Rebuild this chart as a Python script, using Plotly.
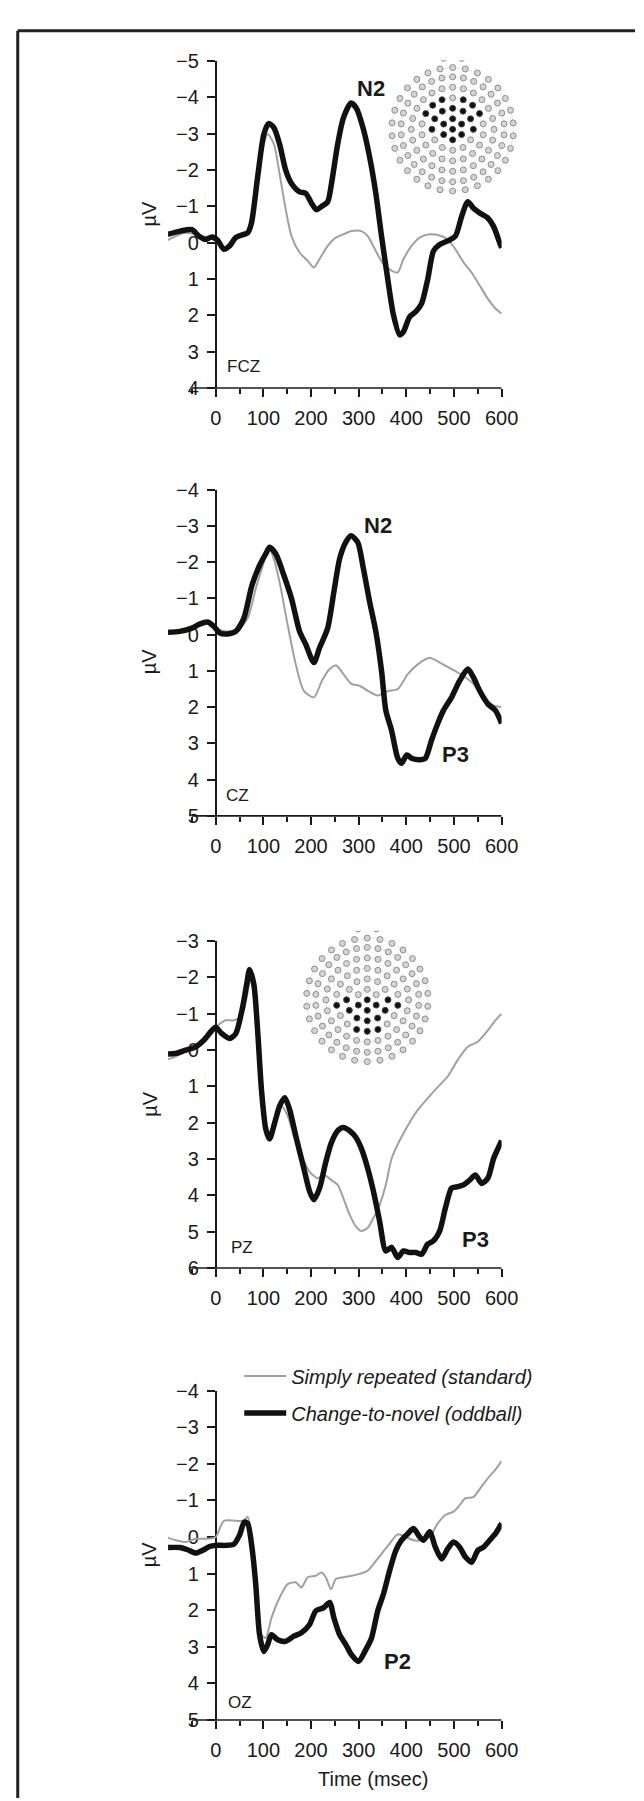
import math
import plotly.graph_objects as go

W, H = 644, 1801

# ---------------- data (time in ms, amplitude in microvolts) ----------------
fcz_t_odd = [-101, -75, -50, -35, -21, -8, 4, 17, 29, 42, 59, 67, 75, 88, 101, 111, 122, 134, 147, 159, 176, 189,
             201, 211, 222, 235, 243, 256, 268, 284, 295, 309, 323, 336, 348, 361, 373, 386, 394, 407, 420, 432,
             445, 457, 470, 487, 503, 516, 529, 541, 554, 571, 583, 596, 600]
fcz_v_odd = [-0.23, -0.32, -0.36, -0.18, -0.09, -0.16, -0.07, 0.18, 0.09, -0.14, -0.23, -0.27, -0.54, -1.81, -2.99,
             -3.28, -3.17, -2.72, -1.99, -1.63, -1.40, -1.36, -1.09, -0.91, -1.00, -1.13, -1.63, -2.72, -3.44, -3.85,
             -3.71, -3.17, -2.36, -1.36, -0.18, 1.00, 1.99, 2.54, 2.45, 2.04, 1.90, 1.68, 1.00, 0.23, 0.05, -0.05,
             -0.18, -0.72, -1.13, -0.95, -0.82, -0.68, -0.45, 0.00, 0.14]
fcz_t_std = [-101, -67, -42, -17, 0, 17, 34, 55, 71, 84, 96, 109, 122, 134, 147, 159, 176, 193, 206, 218, 235, 252,
             268, 285, 306, 319, 336, 352, 369, 382, 394, 411, 428, 449, 470, 487, 503, 520, 537, 554, 571, 587, 600]
fcz_v_std = [-0.07, -0.27, -0.23, -0.14, -0.05, 0.14, -0.05, -0.18, -0.36, -1.45, -2.45, -2.99, -2.72, -1.90, -0.91,
             -0.18, 0.27, 0.50, 0.68, 0.45, 0.09, -0.14, -0.23, -0.32, -0.32, -0.18, 0.23, 0.59, 0.77, 0.82, 0.45,
             0.09, -0.14, -0.23, -0.20, -0.09, 0.18, 0.54, 0.82, 1.18, 1.54, 1.81, 1.95]

cz_t_odd = [-105, -75, -50, -34, -17, -4, 8, 25, 42, 59, 76, 92, 105, 113, 126, 143, 159, 176, 189, 206, 218, 235,
            248, 260, 273, 284, 298, 310, 323, 336, 348, 357, 369, 382, 390, 401, 411, 428, 440, 453, 466, 478, 495,
            512, 529, 541, 554, 571, 587, 600]
cz_v_odd = [-0.06, -0.09, -0.18, -0.29, -0.35, -0.23, -0.05, -0.02, -0.09, -0.45, -1.36, -1.91, -2.23, -2.41, -2.23,
            -1.64, -1.00, -0.09, 0.27, 0.77, 0.36, -0.18, -1.18, -2.09, -2.55, -2.73, -2.55, -1.82, -0.91, -0.09,
            1.00, 2.09, 2.64, 3.41, 3.55, 3.32, 3.41, 3.45, 3.41, 2.91, 2.45, 2.09, 1.73, 1.27, 0.95, 1.18, 1.55,
            1.91, 2.09, 2.45]
cz_t_std = [-105, -67, -34, -17, 0, 21, 46, 67, 84, 101, 111, 122, 134, 151, 168, 185, 206, 223, 239, 253, 268, 285,
            302, 319, 340, 361, 382, 403, 424, 449, 470, 495, 520, 541, 562, 583, 600]
cz_v_std = [-0.09, -0.14, -0.27, -0.36, -0.18, -0.09, -0.14, -0.45, -1.27, -2.00, -2.41, -2.09, -1.45, -0.27, 0.82,
            1.55, 1.73, 1.27, 0.95, 0.85, 1.09, 1.36, 1.41, 1.55, 1.68, 1.56, 1.50, 1.09, 0.82, 0.64, 0.77, 0.95,
            1.14, 1.36, 1.73, 1.95, 2.00]

pz_t_odd = [-105, -84, -63, -42, -25, -8, 0, 13, 29, 42, 55, 65, 71, 80, 88, 96, 105, 113, 124, 134, 145, 155, 168,
            185, 197, 206, 218, 231, 243, 256, 268, 281, 294, 306, 319, 331, 344, 357, 369, 382, 394, 407, 420, 432,
            445, 457, 470, 482, 495, 508, 520, 533, 545, 558, 571, 583, 592, 600]
pz_v_odd = [0.11, 0.09, 0.00, -0.09, -0.27, -0.54, -0.63, -0.45, -0.32, -0.45, -1.09, -1.81, -2.22, -1.81, -0.54,
            1.09, 2.17, 2.45, 1.99, 1.54, 1.31, 1.63, 2.36, 3.26, 3.89, 4.12, 3.80, 3.08, 2.54, 2.22, 2.13, 2.22,
            2.40, 2.72, 3.26, 3.89, 4.71, 5.53, 5.43, 5.71, 5.53, 5.57, 5.57, 5.62, 5.34, 5.25, 4.98, 4.35, 3.80,
            3.76, 3.71, 3.58, 3.44, 3.67, 3.53, 2.99, 2.72, 2.49]
pz_t_std = [-105, -84, -59, -34, -8, 4, 21, 38, 55, 65, 73, 81, 90, 98, 107, 115, 126, 138, 151, 164, 180, 197, 214,
            227, 243, 256, 268, 281, 294, 306, 319, 331, 344, 357, 369, 386, 403, 420, 440, 461, 487, 508, 529, 550,
            571, 587, 600]
pz_v_std = [0.27, 0.18, 0.00, -0.18, -0.54, -0.68, -0.82, -0.82, -0.95, -1.45, -1.95, -1.45, -0.18, 1.27, 2.26,
            2.45, 1.99, 1.54, 1.81, 2.36, 2.90, 3.35, 3.53, 3.44, 3.58, 3.71, 4.08, 4.53, 4.85, 4.98, 4.89, 4.62,
            4.26, 3.71, 2.99, 2.49, 2.08, 1.72, 1.40, 1.09, 0.72, 0.27, -0.09, -0.23, -0.54, -0.82, -1.00]

oz_t_odd = [-105, -75, -59, -42, -25, -13, 0, 21, 38, 50, 60, 67, 76, 84, 92, 101, 109, 117, 130, 147, 164, 180,
            197, 210, 227, 239, 248, 260, 273, 285, 300, 315, 327, 340, 352, 365, 378, 390, 403, 415, 428, 436, 449,
            461, 474, 487, 499, 512, 524, 537, 550, 562, 575, 587, 600]
oz_v_odd = [0.29, 0.29, 0.35, 0.44, 0.35, 0.26, 0.23, 0.23, 0.20, -0.05, -0.41, -0.37, 0.28, 1.29, 2.67, 3.13, 2.94,
            2.67, 2.81, 2.85, 2.71, 2.62, 2.39, 2.02, 1.93, 1.79, 2.21, 2.67, 2.94, 3.22, 3.40, 3.08, 2.76, 2.02,
            1.56, 0.92, 0.37, 0.09, -0.09, -0.23, 0.00, 0.09, -0.14, 0.28, 0.60, 0.32, 0.14, 0.28, 0.55, 0.69, 0.37,
            0.28, 0.09, -0.09, -0.37]
oz_t_std = [-105, -84, -63, -42, -17, 0, 17, 42, 59, 67, 76, 84, 96, 105, 117, 134, 151, 168, 180, 193, 210, 222,
            231, 242, 252, 268, 285, 302, 319, 331, 348, 365, 382, 399, 415, 432, 449, 466, 482, 499, 512, 524, 541,
            558, 575, 587, 600]
oz_v_std = [0.00, 0.09, 0.14, 0.05, 0.05, 0.00, -0.44, -0.44, -0.44, -0.55, 0.09, 1.29, 2.67, 2.76, 2.21, 1.66,
            1.29, 1.24, 1.38, 1.10, 1.06, 0.97, 1.10, 1.43, 1.15, 1.10, 1.06, 1.01, 0.92, 0.74, 0.46, 0.18, -0.07,
            0.00, 0.09, 0.09, 0.00, -0.37, -0.60, -0.69, -0.87, -1.06, -1.09, -1.38, -1.66, -1.84, -2.07]

x_tick_vals = [0, 100, 200, 300, 400, 500, 600]
x_minor_vals = [-50, 50, 150, 250, 350, 450, 550]
series_names = ["Simply repeated (standard)", "Change-to-novel (oddball)"]

# electrode net for the head insets (ring layout)
ring_radii = [0.0, 0.17, 0.34, 0.51, 0.68, 0.85, 1.0]
ring_counts = [1, 6, 12, 18, 24, 30, 30]
nose_x = [-0.15, 0.15]
nose_y = [1.15, 1.15]

# ---------------- layout helpers ----------------
FONT = "Arial, Liberation Sans, Helvetica, sans-serif"
INK = "#1a1a1a"
GRAY = "#a0a0a0"


def px_x(p):
    return p / W


def px_y(p):
    return 1 - p / H


def tick_label(v):
    return ("\u2212" + str(-v)) if v < 0 else str(v)


X_LEFT, X_RIGHT = 164.4, 507.0   # pixels for -100 ms and 600 ms
Y_AXIS_X = 213.3                  # pixel of the 0 ms axis line

panels = [
    dict(site="FCZ", lo=-5, hi=4, top=42.7, bot=373.5,
         ts=fcz_t_std, vs=fcz_v_std, to=fcz_t_odd, vo=fcz_v_odd,
         peaks=[("N2", 325, -4.24)], site_pos=(59, 3.42), uv=196.7),
    dict(site="CZ", lo=-4, hi=5, top=476.5, bot=806.7,
         ts=cz_t_std, vs=cz_v_std, to=cz_t_odd, vo=cz_v_odd,
         peaks=[("N2", 340, -3.0), ("P3", 503, 3.32)], site_pos=(46, 4.45), uv=650),
    dict(site="PZ", lo=-3, hi=6, top=933.5, bot=1264.5,
         ts=pz_t_std, vs=pz_v_std, to=pz_t_odd, vo=pz_v_odd,
         peaks=[("P3", 545, 5.21)], site_pos=(55, 5.43), uv=1098),
    dict(site="OZ", lo=-4, hi=5, top=1388.5, bot=1722.0,
         ts=oz_t_std, vs=oz_v_std, to=oz_t_odd, vo=oz_v_odd,
         peaks=[("P2", 382, 3.40)], site_pos=(52, 4.51), uv=1554),
]

fig = go.Figure()
annotations = []
shapes = []
layout = {}

for i, p in enumerate(panels, start=1):
    xa, ya = ("x" if i == 1 else f"x{i}"), ("y" if i == 1 else f"y{i}")
    last = i == len(panels)
    fig.add_trace(go.Scatter(
        x=p["ts"], y=p["vs"], xaxis=xa, yaxis=ya, mode="lines",
        line=dict(color=GRAY, width=2, shape="spline", smoothing=0.7),
        name=series_names[0], legendgroup="std", showlegend=last, hoverinfo="skip"))
    fig.add_trace(go.Scatter(
        x=p["to"], y=p["vo"], xaxis=xa, yaxis=ya, mode="lines",
        line=dict(color="#111111", width=5.5, shape="spline", smoothing=0.7),
        name=series_names[1], legendgroup="odd", showlegend=last, hoverinfo="skip"))

    yvals = list(range(p["lo"], p["hi"] + 1))
    layout["xaxis" if i == 1 else f"xaxis{i}"] = dict(
        domain=[px_x(X_LEFT), px_x(X_RIGHT)], range=[-100, 600], anchor=ya,
        showline=False, showgrid=False, zeroline=False,
        tickmode="array", tickvals=x_tick_vals, ticks="outside", ticklen=8, tickwidth=1.6,
        tickcolor=INK, tickfont=dict(family=FONT, size=20, color=INK), ticklabelstandoff=4,
        minor=dict(tickmode="array", tickvals=x_minor_vals, ticks="outside", ticklen=5,
                   tickwidth=1.6, tickcolor=INK, showgrid=False),
        fixedrange=True)
    layout["yaxis" if i == 1 else f"yaxis{i}"] = dict(
        domain=[px_y(p["bot"]), px_y(p["top"])], range=[p["hi"], p["lo"]],
        anchor="free", position=px_x(Y_AXIS_X),
        showline=True, linecolor=INK, linewidth=1.6, showgrid=False, zeroline=False,
        tickmode="array", tickvals=yvals, ticktext=[tick_label(v) for v in yvals],
        ticks="outside", ticklen=8, tickwidth=1.6, tickcolor=INK,
        tickfont=dict(family=FONT, size=20, color=INK), ticklabelstandoff=4,
        layer="below traces", fixedrange=True)

    # x-axis baseline from -50 to 600 ms
    shapes.append(dict(type="line", xref=xa, yref=f"{ya} domain", x0=-50, x1=600, y0=0, y1=0,
                       line=dict(color=INK, width=1.6)))
    # component labels
    for txt, tx, ty in p["peaks"]:
        annotations.append(dict(text=f"<b>{txt}</b>", x=tx, y=ty, xref=xa, yref=ya, showarrow=False,
                                font=dict(family=FONT, size=22, color=INK), xanchor="center", yanchor="middle"))
    annotations.append(dict(text=p["site"], x=p["site_pos"][0], y=p["site_pos"][1], xref=xa, yref=ya,
                            showarrow=False, font=dict(family=FONT, size=17, color=INK),
                            xanchor="center", yanchor="middle"))
    annotations.append(dict(text="µV", x=px_x(145), y=px_y(p["uv"]), xref="paper", yref="paper",
                            showarrow=False, textangle=-90, font=dict(family=FONT, size=20, color=INK),
                            xanchor="center", yanchor="middle"))

annotations.append(dict(text="Time (msec)", x=331, y=px_y(1782), xref="x4", yref="paper", showarrow=False,
                        font=dict(family=FONT, size=20, color=INK), xanchor="center", yanchor="middle"))

# ---------------- head insets ----------------
ex, ey = [], []
for r, n in zip(ring_radii, ring_counts):
    for k in range(n):
        a = math.pi / 2 + 2 * math.pi * k / n
        ex.append(r * math.cos(a))
        ey.append(r * math.sin(a))
ex += nose_x
ey += nose_y


def frontal(x, y):
    return -0.22 < y < 0.48 and abs(x) < 0.25 + 0.55 * (y + 0.22)


def parietal(x, y):
    return -0.62 < y < 0.02 and abs(x) < 0.62 + 0.85 * y


insets = [(5, 456.7, 111.7, frontal), (6, 369.0, 993.0, parietal)]
for idx, cx, cy, sel in insets:
    xa, ya = f"x{idx}", f"y{idx}"
    for r in ring_radii[1:]:
        m = 60
        fig.add_trace(go.Scatter(
            x=[r * math.cos(2 * math.pi * k / m) for k in range(m + 1)],
            y=[r * math.sin(2 * math.pi * k / m) for k in range(m + 1)],
            xaxis=xa, yaxis=ya, mode="lines", line=dict(color="#e2e2e2", width=0.8),
            showlegend=False, hoverinfo="skip"))
    on = [sel(a, b) for a, b in zip(ex, ey)]
    fig.add_trace(go.Scatter(
        x=[a for a, s in zip(ex, on) if not s], y=[b for b, s in zip(ey, on) if not s],
        xaxis=xa, yaxis=ya, mode="markers",
        marker=dict(size=6, color="#d4d4d4", line=dict(color="#8e8e8e", width=1)),
        showlegend=False, hoverinfo="skip"))
    fig.add_trace(go.Scatter(
        x=[a for a, s in zip(ex, on) if s], y=[b for b, s in zip(ey, on) if s],
        xaxis=xa, yaxis=ya, mode="markers",
        marker=dict(size=6, color="#111111", line=dict(color="#444444", width=1)),
        showlegend=False, hoverinfo="skip"))
    half = 70
    layout[f"xaxis{idx}"] = dict(domain=[px_x(cx - half), px_x(cx + half)], range=[-1.12, 1.12],
                                  anchor=ya, visible=False, fixedrange=True)
    layout[f"yaxis{idx}"] = dict(domain=[px_y(cy + half), px_y(cy - half)], range=[-1.12, 1.12],
                                  anchor=xa, visible=False, fixedrange=True)

# outer frame
shapes.append(dict(type="line", xref="paper", yref="paper", x0=px_x(10), x1=1.0, y0=px_y(12), y1=px_y(12),
                   line=dict(color="#222222", width=3)))
shapes.append(dict(type="line", xref="paper", yref="paper", x0=px_x(10), x1=px_x(10), y0=px_y(12), y1=0,
                   line=dict(color="#222222", width=3)))

fig.update_layout(
    width=W, height=H, autosize=False,
    margin=dict(l=0, r=0, t=0, b=0),
    paper_bgcolor="white", plot_bgcolor="rgba(0,0,0,0)",
    font=dict(family=FONT, color=INK),
    annotations=annotations, shapes=shapes,
    legend=dict(x=px_x(237.5), y=px_y(1354), xanchor="left", yanchor="top",
                bgcolor="rgba(0,0,0,0)", borderwidth=0, itemwidth=42,
                traceorder="grouped", tracegroupgap=8,
                font=dict(family=FONT, size=20, color=INK, style="italic")),
    **layout)

fig.write_html("out.html")
